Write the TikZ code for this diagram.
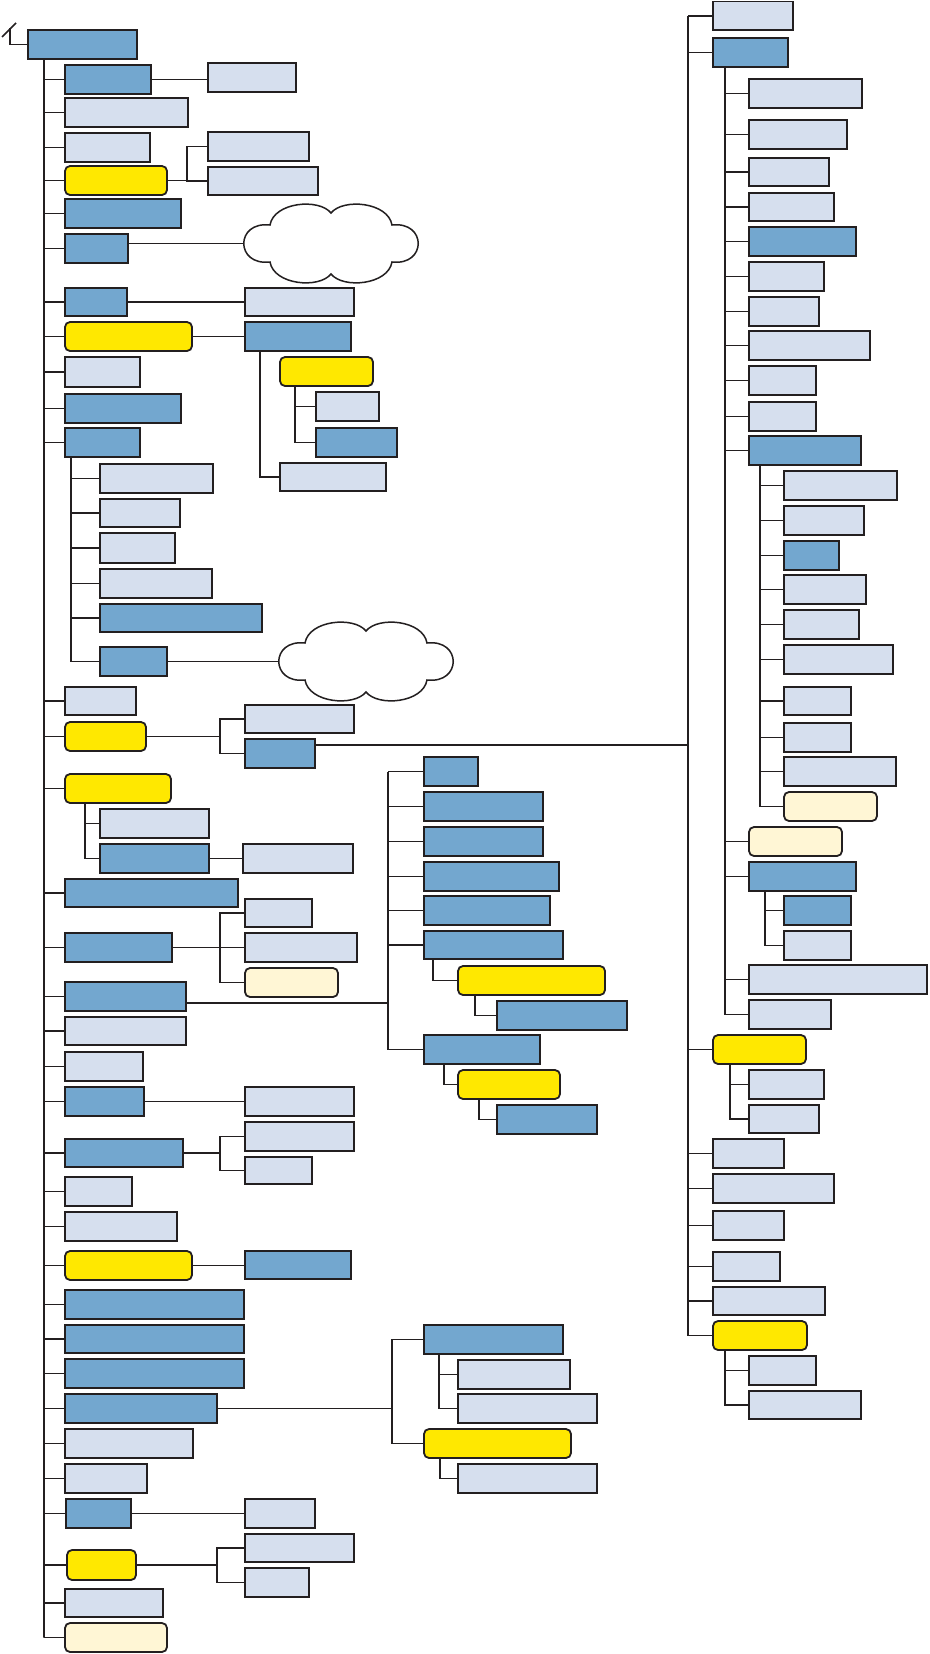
\documentclass[tikz,border=0pt]{standalone}
\usetikzlibrary{calc}
\definecolor{cblue}{RGB}{115,167,207}
\definecolor{clight}{RGB}{214,223,238}
\definecolor{cyel}{RGB}{255,232,0}
\definecolor{ccream}{RGB}{255,246,213}
\definecolor{lncol}{RGB}{35,31,32}
\newcommand\BX[6]{\node[#2,minimum width={#5bp-#3bp},minimum height={#6bp-#4bp}] (#1) at ({(#3+#5)/2},{(#4+#6)/2}) {};}
\newcommand\cloudpath{(26,20) .. controls (30,-3) and (75,-7) .. (87,8) .. controls (99,-7) and (144,-3) .. (148,20) .. controls (183,16) and (183,61) .. (148,57) .. controls (144,80) and (99,84) .. (87,69) .. controls (75,84) and (30,80) .. (26,57) .. controls (-9,61) and (-9,16) .. (26,20) -- cycle}
\tikzset{
  boxbase/.style={draw=lncol,line width=1.8bp,inner sep=0pt,outer sep=0pt},
  blu/.style={boxbase,fill=cblue},
  lgt/.style={boxbase,fill=clight},
  ylw/.style={boxbase,fill=cyel,rounded corners=5bp},
  crm/.style={boxbase,fill=ccream,rounded corners=5bp},
  con/.style={draw=lncol,line width=1.6bp},
  cloudbox/.style={inner sep=0pt,outer sep=0pt,minimum width=174bp,minimum height=77bp},
  cloudline/.style={draw=lncol,line width=1.5bp,fill=white}
}
\begin{document}
\begin{tikzpicture}[x=1bp,y=-1bp]
\useasboundingbox (0,0) rectangle (929,1654);
% ---------- left column ----------
\BX{root}{blu}{28}{30}{137}{59}
\BX{A1}{blu}{65}{65}{151}{94}
\BX{A1r}{lgt}{208}{63}{296}{92}
\BX{A2}{lgt}{65}{98}{188}{127}
\BX{A3}{lgt}{65}{133}{150}{162}
\BX{A4}{ylw}{65}{166}{167}{195}
\BX{A4a}{lgt}{208}{132}{309}{161}
\BX{A4b}{lgt}{208}{167}{318}{195}
\BX{A5}{blu}{65}{199}{181}{228}
\BX{A6}{blu}{65}{234}{128}{263}
\BX{A7}{blu}{65}{288}{127}{316}
\BX{A7r}{lgt}{245}{288}{354}{316}
\BX{A8}{ylw}{65}{322}{192}{351}
\BX{A8r}{blu}{245}{322}{351}{351}
\BX{A8ra}{ylw}{280}{357}{373}{386}
\BX{A8ra1}{lgt}{316}{392}{379}{421}
\BX{A8ra2}{blu}{316}{428}{397}{457}
\BX{A8rb}{lgt}{280}{463}{386}{491}
\BX{A9}{lgt}{65}{357}{140}{387}
\BX{A10}{blu}{65}{394}{181}{423}
\BX{A11}{blu}{65}{428}{140}{457}
\BX{A11a}{lgt}{100}{464}{213}{493}
\BX{A11b}{lgt}{100}{499}{180}{527}
\BX{A11c}{lgt}{100}{533}{175}{563}
\BX{A11d}{lgt}{100}{569}{212}{598}
\BX{A11e}{blu}{100}{604}{262}{632}
\BX{A11f}{blu}{100}{647}{167}{676}
\BX{A12}{lgt}{65}{687}{136}{715}
\BX{A13}{ylw}{65}{722}{146}{751}
\BX{A13a}{lgt}{245}{705}{354}{733}
\BX{A13b}{blu}{245}{739}{315}{768}
\BX{A14}{ylw}{65}{774}{171}{803}
\BX{A14a}{lgt}{100}{809}{209}{838}
\BX{A14b}{blu}{100}{844}{209}{873}
\BX{A14br}{lgt}{243}{844}{353}{873}
\BX{A15}{blu}{65}{879}{238}{907}
\BX{A16}{blu}{65}{933}{172}{962}
\BX{A16a}{lgt}{245}{899}{312}{927}
\BX{A16b}{lgt}{245}{933}{357}{962}
\BX{A16c}{crm}{245}{968}{338}{997}
\BX{A17}{blu}{65}{982}{186}{1011}
\BX{A18}{lgt}{65}{1017}{186}{1045}
\BX{A19}{lgt}{65}{1052}{143}{1081}
\BX{A20}{blu}{65}{1087}{144}{1116}
\BX{A20r}{lgt}{245}{1087}{354}{1116}
\BX{A21}{blu}{65}{1139}{183}{1167}
\BX{A21a}{lgt}{245}{1122}{354}{1151}
\BX{A21b}{lgt}{245}{1157}{312}{1184}
\BX{A22}{lgt}{65}{1177}{132}{1206}
\BX{A23}{lgt}{65}{1212}{177}{1241}
\BX{A24}{ylw}{65}{1251}{192}{1280}
\BX{A24r}{blu}{245}{1251}{351}{1279}
\BX{A25}{blu}{65}{1290}{244}{1319}
\BX{A26}{blu}{65}{1325}{244}{1353}
\BX{A27}{blu}{65}{1359}{244}{1388}
\BX{A28}{blu}{65}{1394}{217}{1423}
\BX{A29}{lgt}{65}{1429}{193}{1458}
\BX{A30}{lgt}{65}{1464}{147}{1493}
\BX{A31}{blu}{66}{1499}{131}{1528}
\BX{A31r}{lgt}{245}{1499}{315}{1528}
\BX{A32}{ylw}{67}{1550}{136}{1580}
\BX{A32a}{lgt}{245}{1534}{354}{1562}
\BX{A32b}{lgt}{245}{1568}{309}{1597}
\BX{A33}{lgt}{65}{1589}{163}{1617}
\BX{A34}{crm}{65}{1623}{167}{1652}
% ---------- middle ----------
\BX{M1}{blu}{424}{757}{478}{786}
\BX{M2}{blu}{424}{792}{543}{821}
\BX{M3}{blu}{424}{827}{543}{856}
\BX{M4}{blu}{424}{862}{559}{891}
\BX{M5}{blu}{424}{896}{550}{925}
\BX{M6}{blu}{424}{931}{563}{959}
\BX{M6a}{ylw}{458}{966}{605}{995}
\BX{M6a1}{blu}{497}{1001}{627}{1030}
\BX{M7}{blu}{424}{1035}{540}{1064}
\BX{M7a}{ylw}{458}{1070}{560}{1099}
\BX{M7a1}{blu}{497}{1105}{597}{1134}
\BX{B1}{blu}{424}{1325}{563}{1354}
\BX{B1a}{lgt}{458}{1360}{570}{1389}
\BX{B1b}{lgt}{458}{1394}{597}{1423}
\BX{B2}{ylw}{424}{1429}{571}{1458}
\BX{B2a}{lgt}{458}{1464}{597}{1493}
% ---------- right column ----------
\BX{R1}{lgt}{713}{1.5}{793}{30}
\BX{R2}{blu}{713}{38}{788}{67}
\BX{R2a}{lgt}{749}{79}{862}{108}
\BX{R2b}{lgt}{749}{120}{847}{149}
\BX{R2c}{lgt}{749}{158}{829}{186}
\BX{R2d}{lgt}{749}{193}{834}{221}
\BX{R2e}{blu}{749}{227}{856}{256}
\BX{R2f}{lgt}{749}{262}{824}{291}
\BX{R2g}{lgt}{749}{297}{819}{326}
\BX{R2h}{lgt}{749}{331}{870}{360}
\BX{R2i}{lgt}{749}{366}{816}{395}
\BX{R2j}{lgt}{749}{402}{816}{431}
\BX{R2k}{blu}{749}{436}{861}{465}
\BX{R2k1}{lgt}{784}{471}{897}{500}
\BX{R2k2}{lgt}{784}{506}{864}{535}
\BX{R2k3}{blu}{784}{541}{839}{570}
\BX{R2k4}{lgt}{784}{575}{866}{604}
\BX{R2k5}{lgt}{784}{610}{859}{639}
\BX{R2k6}{lgt}{784}{645}{893}{674}
\BX{R2k7}{lgt}{784}{687}{851}{715}
\BX{R2k8}{lgt}{784}{723}{851}{752}
\BX{R2k9}{lgt}{784}{757}{896}{786}
\BX{R2k10}{crm}{784}{792}{877}{821}
\BX{R2l}{crm}{749}{827}{842}{856}
\BX{R2m}{blu}{749}{862}{856}{891}
\BX{R2m1}{blu}{784}{896}{851}{925}
\BX{R2m2}{lgt}{784}{931}{851}{960}
\BX{R2n}{lgt}{749}{965}{927}{994}
\BX{R2o}{lgt}{749}{1000}{831}{1029}
\BX{R3}{ylw}{713}{1035}{806}{1064}
\BX{R3a}{lgt}{749}{1070}{824}{1099}
\BX{R3b}{lgt}{749}{1105}{819}{1133}
\BX{R4}{lgt}{713}{1139}{784}{1168}
\BX{R5}{lgt}{713}{1174}{834}{1203}
\BX{R6}{lgt}{713}{1211}{784}{1240}
\BX{R7}{lgt}{713}{1252}{780}{1281}
\BX{R8}{lgt}{713}{1287}{825}{1315}
\BX{R9}{ylw}{713}{1321}{807}{1350}
\BX{R9a}{lgt}{749}{1356}{816}{1385}
\BX{R9b}{lgt}{749}{1391}{861}{1419}
% ---------- clouds ----------
\node[cloudbox] (cloud1) at (331,243.5) {};
\node[cloudbox] (cloud2) at (366,661.5) {};
\begin{scope}[shift={(cloud1.north west)}]
\path[cloudline] \cloudpath;
\end{scope}
\begin{scope}[shift={(cloud2.north west)}]
\path[cloudline] \cloudpath;
\end{scope}
% ---------- helper coordinates ----------
\coordinate (LT) at (44,0);
\coordinate (RT) at (688,0);
\coordinate (MT) at (388,0);
\coordinate (MB) at (392,0);
\coordinate (J4) at (187,0);
\coordinate (J13) at (220,0);
\coordinate (J32) at (217,0);
\coordinate (rc) at (10,28);
\coordinate (sl1) at (2,37);
\coordinate (sl2) at (16,23);
\coordinate (j8r) at ([xshift=15bp]A8r.south west);
\coordinate (j8ra) at ([xshift=15bp]A8ra.south west);
\coordinate (j11) at ([xshift=6bp]A11.south west);
\coordinate (j14) at ([xshift=20bp]A14.south west);
\coordinate (j13) at ([yshift=8.5bp]A13b.east);
\coordinate (j17) at ([yshift=-6.5bp]A17.east);
\coordinate (j6) at ([xshift=9bp]M6.south west);
\coordinate (j6a) at ([xshift=17bp]M6a.south west);
\coordinate (j7) at ([xshift=20bp]M7.south west);
\coordinate (j7a) at ([xshift=21bp]M7a.south west);
\coordinate (jb1) at ([xshift=15bp]B1.south west);
\coordinate (jb2) at ([xshift=16bp]B2.south west);
\coordinate (j2) at ([xshift=12bp]R2.south west);
\coordinate (j2k) at ([xshift=11bp]R2k.south west);
\coordinate (j2m) at ([xshift=16bp]R2m.south west);
\coordinate (j3) at ([xshift=17bp]R3.south west);
\coordinate (j9) at ([xshift=12bp]R9.south west);
% ---------- connectors ----------
% left trunk
\draw[con] ([xshift=16bp]root.south west) -- (A34.west -| LT);
\draw[con] (root.west) -| (rc);
\draw[con] (sl1) -- (sl2);
\foreach \n in {A1,A2,A3,A4,A5,A6,A7,A8,A9,A10,A11,A12,A13,A14,A15,A16,A17,A18,A19,A20,A21,A22,A23,A24,A25,A26,A27,A28,A29,A30,A31,A32,A33,A34}
  {\draw[con] (\n.west) -- (\n.west -| LT);}
\draw[con] (A1.east) -- (A1.east -| A1r.west);
\draw[con] (A4.east) -- (A4.east -| J4);
\draw[con] (A4a.west) -| (A4b.west -| J4) -- (A4b.west);
\draw[con] (cloud1.west -| A6.east) -- (cloud1.west);
\draw[con] (A7.east) -- (A7r.west);
\draw[con] (A8.east) -- (A8r.west);
\draw[con] (j8r) |- (A8rb.west);
\draw[con] (j8ra) |- (A8ra2.west);
\draw[con] (A8ra1.west) -- (A8ra1.west -| j8ra);
\draw[con] (j11) |- (A11f.west);
\foreach \n in {A11a,A11b,A11c,A11d,A11e}
  {\draw[con] (\n.west) -- (\n.west -| j11);}
\draw[con] (A11f.east) -- (cloud2.west);
\draw[con] (A13.east) -- (A13.east -| J13);
\draw[con] (A13a.west) -| (A13b.west -| J13) -- (A13b.west);
\draw[con] (j13) -- (j13 -| RT);
\draw[con] (j14) |- (A14b.west);
\draw[con] (A14a.west) -- (A14a.west -| j14);
\draw[con] (A14b.east) -- (A14br.west);
\draw[con] (A16.east) -- (A16.east -| J13);
\draw[con] (A16a.west) -| (A16c.west -| J13) -- (A16c.west);
\draw[con] (A16b.west) -- (A16b.west -| J13);
\draw[con] (A20.east) -- (A20r.west);
\draw[con] (A21.east) -- (A21.east -| J13);
\draw[con] (A21a.west) -| (A21b.west -| J13) -- (A21b.west);
\draw[con] (A24.east) -- (A24.east -| A24r.west);
\draw[con] (A31.east) -- (A31r.west);
\draw[con] (A32.east) -- (A32.east -| J32);
\draw[con] (A32a.west) -| (A32b.west -| J32) -- (A32b.west);
% middle
\draw[con] (j17) -- (j17 -| MT);
\draw[con] (M1.west -| MT) -- (M7.west -| MT);
\foreach \n in {M1,M2,M3,M4,M5,M6,M7}
  {\draw[con] (\n.west) -- (\n.west -| MT);}
\draw[con] (j6) |- (M6a.west);
\draw[con] (j6a) |- (M6a1.west);
\draw[con] (j7) |- (M7a.west);
\draw[con] (j7a) |- (M7a1.west);
\draw[con] (A28.east) -- (A28.east -| MB);
\draw[con] (B1.west) -| (B2.west -| MB) -- (B2.west);
\draw[con] (jb1) |- (B1b.west);
\draw[con] (B1a.west) -- (B1a.west -| jb1);
\draw[con] (jb2) |- (B2a.west);
% right
\draw[con] (R1.west -| RT) -- (R9.west -| RT);
\foreach \n in {R1,R2,R3,R4,R5,R6,R7,R8,R9}
  {\draw[con] (\n.west) -- (\n.west -| RT);}
\draw[con] (j2) -- (R2o.west -| j2);
\foreach \n in {R2a,R2b,R2c,R2d,R2e,R2f,R2g,R2h,R2i,R2j,R2k,R2l,R2m,R2n,R2o}
  {\draw[con] (\n.west) -- (\n.west -| j2);}
\draw[con] (j2k) -- (R2k10.west -| j2k);
\foreach \n in {R2k1,R2k2,R2k3,R2k4,R2k5,R2k6,R2k7,R2k8,R2k9,R2k10}
  {\draw[con] (\n.west) -- (\n.west -| j2k);}
\draw[con] (j2m) |- (R2m2.west);
\draw[con] (R2m1.west) -- (R2m1.west -| j2m);
\draw[con] (j3) |- (R3b.west);
\draw[con] (R3a.west) -- (R3a.west -| j3);
\draw[con] (j9) |- (R9b.west);
\draw[con] (R9a.west) -- (R9a.west -| j9);
\end{tikzpicture}
\end{document}
